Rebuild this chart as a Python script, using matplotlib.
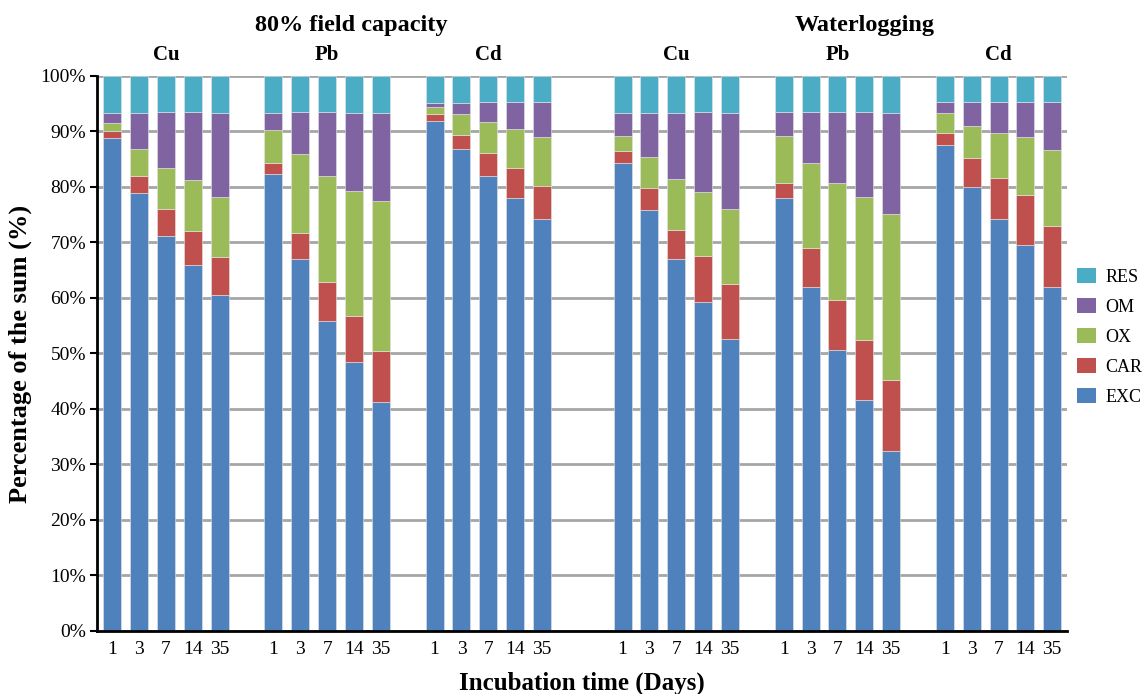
import matplotlib
matplotlib.use("Agg")
import matplotlib.pyplot as plt
import numpy as np
from matplotlib.patches import Patch

plt.rcParams['font.family'] = ['Liberation Serif', 'DejaVu Serif']

days = ["1", "3", "7", "14", "35"]
metals = ["Cu", "Pb", "Cd"]
conditions = ["80% field capacity", "Waterlogging"]
fractions = ["EXC", "CAR", "OX", "OM", "RES"]
colors = {"EXC": "#4F81BD", "CAR": "#C0504D", "OX": "#9BBB59", "OM": "#8064A2", "RES": "#4BACC6"}

# cumulative tops (%), per bar: EXC, EXC+CAR, +OX, +OM (RES to 100)
fc_cu = [[88.9, 90.1, 91.5, 93.4], [78.9, 82.0, 86.8, 93.4], [71.2, 76.0, 83.5, 93.6],
         [66.0, 72.0, 81.2, 93.6], [60.5, 67.3, 78.2, 93.4]]
fc_pb = [[82.3, 84.4, 90.3, 93.4], [67.1, 71.8, 85.9, 93.6], [55.9, 62.9, 81.9, 93.6],
         [48.4, 56.8, 79.3, 93.4], [41.2, 50.4, 77.5, 93.4]]
fc_cd = [[91.9, 93.1, 94.5, 95.2], [86.8, 89.4, 93.2, 95.2], [81.9, 86.1, 91.7, 95.4],
         [78.1, 83.5, 90.5, 95.4], [74.2, 80.2, 89.0, 95.4]]
wl_cu = [[84.3, 86.4, 89.2, 93.3], [75.8, 79.8, 85.4, 93.3], [67.0, 72.3, 81.4, 93.3],
         [59.2, 67.6, 79.1, 93.6], [52.6, 62.5, 76.0, 93.3]]
wl_pb = [[78.1, 80.7, 89.2, 93.6], [62.0, 69.0, 84.3, 93.6], [50.6, 59.7, 80.7, 93.6],
         [41.7, 52.4, 78.2, 93.6], [32.4, 45.2, 75.1, 93.4]]
wl_cd = [[87.5, 89.8, 93.3, 95.4], [80.0, 85.2, 91.0, 95.3], [74.2, 81.7, 89.7, 95.3],
         [69.5, 78.6, 89.0, 95.3], [62.0, 73.0, 86.6, 95.3]]

groups = [fc_cu, fc_pb, fc_cd, wl_cu, wl_pb, wl_cd]
group_starts = [0, 6, 12, 19, 25, 31]

fig = plt.figure(figsize=(11.43, 6.94), dpi=100)
ax = fig.add_axes([0.0849, 0.0908, 0.9335 - 0.0849, 0.8905 - 0.0908])

bw = 0.67
xticks, xlabels = [], []
for gi, (g, start) in enumerate(zip(groups, group_starts)):
    for bi, cum in enumerate(g):
        x = start + bi
        tops = list(cum) + [100.0]
        bottom = 0.0
        for fi, f in enumerate(fractions):
            h = tops[fi] - bottom
            ax.bar(x, h, bottom=bottom, width=bw, color=colors[f],
                   edgecolor='#e6e6e6', linewidth=0.4, zorder=3)
            bottom = tops[fi]
        xticks.append(x)
        xlabels.append(days[bi])
    ax.text(start + 2, 1.02, metals[gi % 3], transform=ax.get_xaxis_transform(),
            ha='center', va='bottom', fontsize=15, fontweight='bold')

ax.text(8.9, 1.072, conditions[0], transform=ax.get_xaxis_transform(),
        ha='center', va='bottom', fontsize=17.5, fontweight='bold')
ax.text(28.0, 1.072, conditions[1], transform=ax.get_xaxis_transform(),
        ha='center', va='bottom', fontsize=17.5, fontweight='bold')

ax.set_xlim(-0.57, 35.55)
ax.set_ylim(0, 100)
ax.set_yticks(np.arange(0, 101, 10))
ax.set_yticklabels([f"{v}%" for v in range(0, 101, 10)], fontsize=14)
ax.set_xticks(xticks)
ax.set_xticklabels(xlabels, fontsize=14)
ax.tick_params(axis='x', length=0, pad=7)
ax.tick_params(axis='y', length=5, width=1.5, direction='out', pad=3)

ax.yaxis.grid(True, color='#a6a6a6', linewidth=2, zorder=0)
ax.set_axisbelow(True)
for s in ['top', 'right']:
    ax.spines[s].set_visible(False)
ax.spines['left'].set_linewidth(2)
ax.spines['bottom'].set_linewidth(2)
ax.spines['left'].set_zorder(5)
ax.spines['bottom'].set_zorder(5)

ax.set_ylabel("Percentage of the sum (%)", fontsize=19, fontweight='bold', labelpad=6)
ax.set_xlabel("Incubation time (Days)", fontsize=18, fontweight='bold', labelpad=10)

handles = [Patch(facecolor=colors[f], edgecolor='none', label=f) for f in reversed(fractions)]
fig.legend(handles=handles, loc='center left', bbox_to_anchor=(0.9423, 0.514),
           frameon=False, fontsize=13, handlelength=1.05, handleheight=0.9,
           labelspacing=0.68, handletextpad=0.5, borderaxespad=0, borderpad=0)

fig.savefig("out.png", dpi=100)
